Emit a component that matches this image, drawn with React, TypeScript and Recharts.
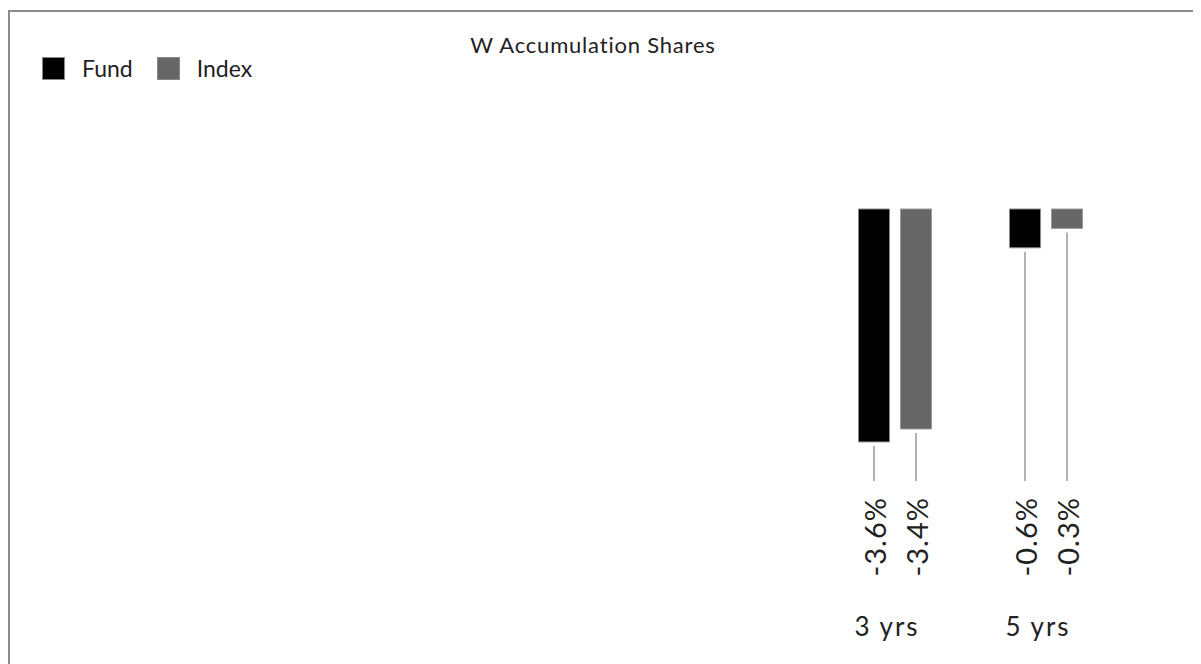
import React from 'react'
import { BarChart, Bar, XAxis, YAxis, LabelList } from 'recharts'

// periods shown on the axis
const periods = ['3 yrs', '5 yrs']
// cumulative performance, %
const fundValues = [-3.6, -0.6]
const indexValues = [-3.4, -0.3]
const seriesNames = ['Fund', 'Index']
const seriesColors = ['#000000', '#666666']

const data = periods.map((period, i) => ({
  period,
  fund: fundValues[i],
  index: indexValues[i],
}))

const FONT = 'Lato, "Noto Sans", sans-serif'
const LINE_END = 469
const TEXT_TOP = 485

// leader line + rotated value under each bar
const renderValueLabel = (props: any) => {
  const x = Number(props.x)
  const y = Number(props.y)
  const w = Number(props.width)
  const h = Number(props.height)
  const cx = x + w / 2
  const bottom = Math.max(y, y + h)
  return (
    <g>
      <line x1={cx} x2={cx} y1={bottom + 4} y2={LINE_END} stroke="#999" strokeWidth={1.5} />
      <text
        x={cx}
        y={TEXT_TOP}
        transform={`rotate(-90 ${cx} ${TEXT_TOP})`}
        textAnchor="end"
        dominantBaseline="central"
        fontSize={29}
        letterSpacing={1}
        fontFamily={FONT}
        fill="#222"
      >
        {`${Number(props.value).toFixed(1)}%`}
      </text>
    </g>
  )
}

const renderTick = (props: any) => {
  const { x, y, payload } = props
  return (
    <text x={x - 8} y={y + 39} textAnchor="middle" fontSize={26} letterSpacing={2} fontFamily={FONT} fill="#222">
      {payload.value}
    </text>
  )
}

export default function App() {
  return (
    <div
      style={{
        position: 'relative',
        marginTop: 2,
        width: 1200,
        height: 660,
        borderLeft: '2px solid #8a8a8a',
        borderTop: '2px solid #8a8a8a',
        fontFamily: FONT,
        color: '#222',
      }}
    >
      {/* titel */}
      <div
        style={{
          position: 'absolute',
          left: 583,
          top: 19,
          transform: 'translateX(-50%)',
          fontSize: 22,
          letterSpacing: 0.8,
          whiteSpace: 'nowrap',
        }}
      >
        W Accumulation Shares
      </div>
      {/* legend */}
      <div style={{ position: 'absolute', left: 32, top: 42, display: 'flex', alignItems: 'center', fontSize: 23 }}>
        {seriesNames.map((name, i) => (
          <div key={name} style={{ display: 'flex', alignItems: 'center', marginRight: 24 }}>
            <span
              style={{
                display: 'inline-block',
                width: 23,
                height: 23,
                background: seriesColors[i],
                border: '1px solid #888',
                boxSizing: 'border-box',
                marginRight: 17,
              }}
            />
            <span>{name}</span>
          </div>
        ))}
      </div>
      <BarChart
        width={1180}
        height={650}
        data={data}
        margin={{ top: 197, right: 68.5, bottom: 14.8, left: 809.5 }}
        barSize={31}
        barGap={11}
      >
        <XAxis
          dataKey="period"
          axisLine={false}
          tickLine={false}
          tickSize={0}
          tickMargin={0}
          height={50}
          tick={renderTick}
        />
        <YAxis hide domain={[-6, 0]} />
        <Bar dataKey="fund" name={seriesNames[0]} fill={seriesColors[0]} stroke="#888" strokeWidth={1} isAnimationActive={false}>
          <LabelList dataKey="fund" content={renderValueLabel} />
        </Bar>
        <Bar dataKey="index" name={seriesNames[1]} fill={seriesColors[1]} stroke="#999" strokeWidth={1} isAnimationActive={false}>
          <LabelList dataKey="index" content={renderValueLabel} />
        </Bar>
      </BarChart>
    </div>
  )
}
